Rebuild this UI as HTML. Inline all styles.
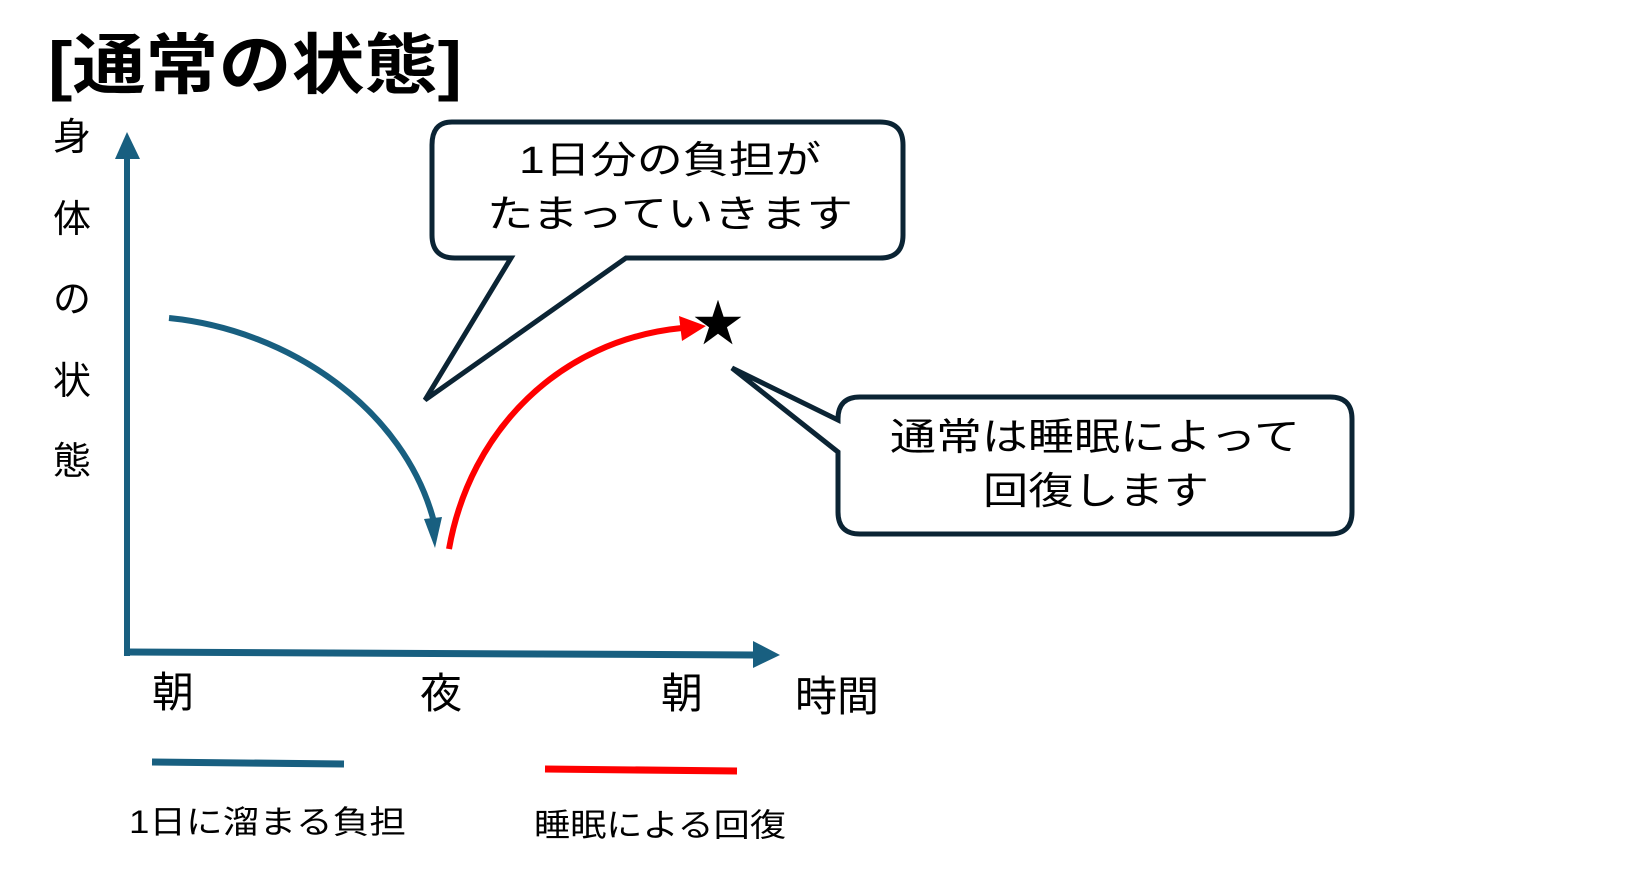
<!DOCTYPE html>
<html><head><meta charset="utf-8"><style>
html,body{margin:0;padding:0;background:#fff;}
svg{display:block;}
text{font-family:"Liberation Sans","Noto Sans CJK JP",sans-serif;fill:#000;}
</style></head><body>
<svg width="1652" height="872" viewBox="0 0 1652 872" xmlns="http://www.w3.org/2000/svg">
<text x="48" y="88" font-size="66" font-weight="bold" textLength="414" lengthAdjust="spacingAndGlyphs">[通常の状態]</text>
<g font-size="38" text-anchor="middle">
<text x="72" y="150">身</text>
<text x="72" y="232">体</text>
<text x="72" y="312">の</text>
<text x="72" y="394">状</text>
<text x="72" y="474">態</text>
</g>
<line x1="127" y1="656" x2="127" y2="156" stroke="#185f80" stroke-width="6"/>
<polygon points="127,132 115,159 140,159" fill="#185f80"/>
<line x1="124" y1="652" x2="755" y2="655" stroke="#185f80" stroke-width="7"/>
<polygon points="780,655 753,641 753,668" fill="#185f80"/>
<path d="M169,318 C290,330 405,410 434,522" fill="none" stroke="#185f80" stroke-width="6"/>
<polygon points="435,548 424,519 442,517" fill="#185f80"/>
<path d="M449,549 C470,430 560,340 682,328" fill="none" stroke="#ff0000" stroke-width="6"/>
<polygon points="706,326 679,316 682,341" fill="#ff0000"/>
<text x="718" y="341" font-size="50" text-anchor="middle">★</text>
<path d="M452,122 H880 Q903,122 903,145 V235 Q903,258 880,258 H626 L425,400 L511,258 H455 Q432,258 432,235 V145 Q432,122 452,122 Z" fill="#fff" stroke="#0b2434" stroke-width="5"/>
<g font-size="38">
<text x="519" y="173" textLength="302" lengthAdjust="spacingAndGlyphs">1日分の負担が</text>
<text x="487" y="227" textLength="366" lengthAdjust="spacingAndGlyphs">たまっていきます</text>
</g>
<path d="M860,397 H1330 Q1352,397 1352,419 V512 Q1352,534 1330,534 H860 Q838,534 838,512 V452 L732,368 L838,420 V419 Q838,397 860,397 Z" fill="#fff" stroke="#0b2434" stroke-width="5"/>
<g font-size="38">
<text x="890" y="450" textLength="410" lengthAdjust="spacingAndGlyphs">通常は睡眠によって</text>
<text x="983" y="504" textLength="226" lengthAdjust="spacingAndGlyphs">回復します</text>
</g>
<g font-size="42">
<text x="152" y="707">朝</text>
<text x="420" y="708">夜</text>
<text x="661" y="708">朝</text>
<text x="795" y="711">時間</text>
</g>
<line x1="152" y1="762" x2="344" y2="764" stroke="#185f80" stroke-width="7"/>
<line x1="545" y1="769" x2="737" y2="771" stroke="#ff0000" stroke-width="7"/>
<text x="129" y="833" font-size="32" textLength="277" lengthAdjust="spacingAndGlyphs">1日に溜まる負担</text>
<text x="534" y="836" font-size="32" textLength="252" lengthAdjust="spacingAndGlyphs">睡眠による回復</text>
</svg>
</body></html>
